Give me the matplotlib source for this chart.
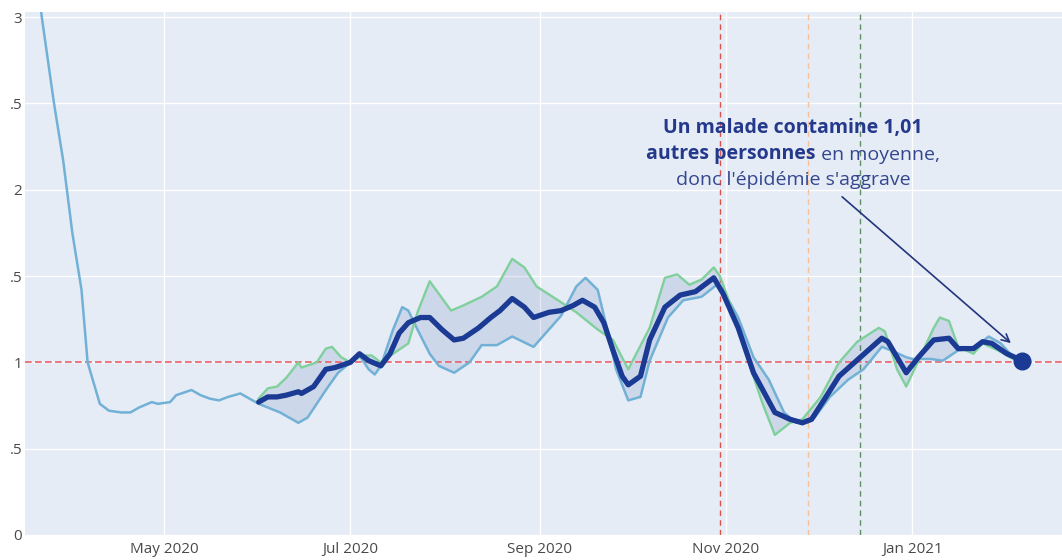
# -*- coding: utf-8 -*-
"""
Taux de reproduction R : deux estimations, leur moyenne, et l'annotation.
"""

import numpy as np
import pandas as pd
import matplotlib
matplotlib.use('Agg')
import matplotlib.pyplot as plt
import matplotlib.dates as mdates

plt.rcParams['font.family'] = ['Open Sans', 'DejaVu Sans']

## Data

# Light blue estimate (whole period)
hosp_dates = ['2020-03-20', '2020-03-22', '2020-03-26', '2020-03-29', '2020-04-01',
              '2020-04-04', '2020-04-06', '2020-04-09', '2020-04-10', '2020-04-13',
              '2020-04-17', '2020-04-20', '2020-04-23', '2020-04-27', '2020-04-29',
              '2020-05-03', '2020-05-05', '2020-05-10', '2020-05-13', '2020-05-16',
              '2020-05-19', '2020-05-22', '2020-05-26', '2020-05-28', '2020-06-01',
              '2020-06-08', '2020-06-14', '2020-06-17', '2020-06-23', '2020-06-27',
              '2020-07-01', '2020-07-04', '2020-07-07', '2020-07-09', '2020-07-11',
              '2020-07-15', '2020-07-18', '2020-07-20', '2020-07-23', '2020-07-27',
              '2020-07-30', '2020-08-04', '2020-08-09', '2020-08-13', '2020-08-18',
              '2020-08-23', '2020-08-30', '2020-09-04', '2020-09-08', '2020-09-13',
              '2020-09-16', '2020-09-20', '2020-09-23', '2020-09-26', '2020-09-30',
              '2020-10-04', '2020-10-07', '2020-10-13', '2020-10-18', '2020-10-24',
              '2020-10-29', '2020-10-31', '2020-11-05', '2020-11-10', '2020-11-15',
              '2020-11-20', '2020-11-24', '2020-11-30', '2020-12-05', '2020-12-11',
              '2020-12-16', '2020-12-22', '2020-12-25', '2020-12-30', '2021-01-01',
              '2021-01-07', '2021-01-11', '2021-01-16', '2021-01-21', '2021-01-26',
              '2021-01-30', '2021-02-03', '2021-02-06']
hosp_r = [3.3, 3.0, 2.5, 2.17, 1.75,
          1.42, 1.0, 0.82, 0.76, 0.72,
          0.71, 0.71, 0.74, 0.77, 0.76,
          0.77, 0.81, 0.84, 0.81, 0.79,
          0.78, 0.80, 0.82, 0.80, 0.76,
          0.71, 0.65, 0.68, 0.84, 0.94,
          1.0, 1.04, 0.96, 0.93, 0.98,
          1.19, 1.32, 1.30, 1.19, 1.05,
          0.98, 0.94, 1.0, 1.10, 1.10,
          1.15, 1.09, 1.19, 1.27, 1.44,
          1.49, 1.42, 1.20, 0.96, 0.78,
          0.80, 1.01, 1.26, 1.36, 1.38,
          1.45, 1.42, 1.26, 1.03, 0.90,
          0.71, 0.65, 0.68, 0.80, 0.90,
          0.96, 1.09, 1.07, 1.03, 1.02,
          1.02, 1.01, 1.07, 1.08, 1.15,
          1.11, 1.03, 1.01]

# Green estimate (from June)
cases_dates = ['2020-06-01', '2020-06-04', '2020-06-07', '2020-06-10', '2020-06-14',
               '2020-06-15', '2020-06-20', '2020-06-23', '2020-06-25', '2020-06-28',
               '2020-07-01', '2020-07-05', '2020-07-08', '2020-07-11', '2020-07-15',
               '2020-07-20', '2020-07-23', '2020-07-27', '2020-08-03', '2020-08-07',
               '2020-08-13', '2020-08-18', '2020-08-23', '2020-08-27', '2020-08-31',
               '2020-09-07', '2020-09-13', '2020-09-20', '2020-09-25', '2020-09-30',
               '2020-10-07', '2020-10-12', '2020-10-16', '2020-10-20', '2020-10-24',
               '2020-10-28', '2020-10-30', '2020-11-04', '2020-11-09', '2020-11-13',
               '2020-11-17', '2020-11-22', '2020-11-26', '2020-12-02', '2020-12-08',
               '2020-12-14', '2020-12-21', '2020-12-23', '2020-12-27', '2020-12-30',
               '2021-01-03', '2021-01-08', '2021-01-10', '2021-01-13', '2021-01-16',
               '2021-01-21', '2021-01-24', '2021-01-29', '2021-02-04', '2021-02-06']
cases_r = [0.79, 0.85, 0.86, 0.91, 1.0,
           0.97, 1.0, 1.08, 1.09, 1.03,
           1.0, 1.04, 1.04, 1.0, 1.05,
           1.11, 1.29, 1.47, 1.30, 1.33,
           1.38, 1.44, 1.60, 1.55, 1.44,
           1.36, 1.29, 1.19, 1.13, 0.96,
           1.20, 1.49, 1.51, 1.45, 1.48,
           1.55, 1.50, 1.26, 0.97, 0.76,
           0.58, 0.65, 0.67, 0.80, 1.0,
           1.12, 1.20, 1.18, 0.96, 0.86,
           1.01, 1.20, 1.26, 1.24, 1.09,
           1.05, 1.11, 1.07, 1.01, 1.0]

# Thick navy line: mean of the two estimates
mean_dates = ['2020-06-01', '2020-06-04', '2020-06-07', '2020-06-10', '2020-06-14',
              '2020-06-15', '2020-06-19', '2020-06-23', '2020-06-26', '2020-07-01',
              '2020-07-04', '2020-07-07', '2020-07-11', '2020-07-14', '2020-07-17',
              '2020-07-20', '2020-07-24', '2020-07-27', '2020-07-31', '2020-08-04',
              '2020-08-07', '2020-08-12', '2020-08-16', '2020-08-19', '2020-08-23',
              '2020-08-27', '2020-08-30', '2020-09-04', '2020-09-08', '2020-09-12',
              '2020-09-15', '2020-09-19', '2020-09-22', '2020-09-25', '2020-09-28',
              '2020-09-30', '2020-10-04', '2020-10-07', '2020-10-12', '2020-10-17',
              '2020-10-22', '2020-10-28', '2020-10-31', '2020-11-05', '2020-11-10',
              '2020-11-17', '2020-11-22', '2020-11-26', '2020-11-29', '2020-12-03',
              '2020-12-08', '2020-12-15', '2020-12-22', '2020-12-24', '2020-12-30',
              '2021-01-03', '2021-01-08', '2021-01-13', '2021-01-16', '2021-01-21',
              '2021-01-24', '2021-01-27', '2021-02-01', '2021-02-06']
mean_r = [0.77, 0.80, 0.80, 0.81, 0.83,
          0.82, 0.86, 0.96, 0.97, 1.0,
          1.05, 1.01, 0.98, 1.05, 1.17,
          1.23, 1.26, 1.26, 1.19, 1.13,
          1.14, 1.20, 1.26, 1.30, 1.37,
          1.32, 1.26, 1.29, 1.30, 1.33,
          1.36, 1.32, 1.23, 1.07, 0.92,
          0.87, 0.92, 1.13, 1.32, 1.39,
          1.41, 1.49, 1.40, 1.20, 0.94,
          0.71, 0.67, 0.65, 0.67, 0.78,
          0.92, 1.03, 1.14, 1.12, 0.94,
          1.03, 1.13, 1.14, 1.08, 1.08,
          1.12, 1.11, 1.05, 1.01]

# Dates of the vertical markers (confinement, easing, curfew)
event_dates = ['2020-10-30', '2020-11-28', '2020-12-15']
event_colors = ['#d9534f', '#f3c19b', '#5f8f62']

ytick_vals = [0, 0.5, 1, 1.5, 2, 2.5, 3]
ytick_labels = ['0', '.5', '1', '.5', '2', '.5', '3']

hosp_dates = pd.to_datetime(hosp_dates)
cases_dates = pd.to_datetime(cases_dates)
mean_dates = pd.to_datetime(mean_dates)
hosp_r = np.array(hosp_r)
cases_r = np.array(cases_r)

## Plot

fig = plt.figure(figsize=(10.62, 5.6), dpi=100)
ax = fig.add_axes([25/1062, 25/560, 1037/1062, 523/560])
ax.set_facecolor('#e5ecf6')
for s in ax.spines.values():
    s.set_visible(False)

# Band between the two estimates
band = hosp_dates >= cases_dates[0]
poly_x = np.concatenate([mdates.date2num(cases_dates),
                         mdates.date2num(hosp_dates[band])[::-1]])
poly_y = np.concatenate([cases_r, hosp_r[band][::-1]])
ax.fill(poly_x, poly_y, color='#23409a', alpha=0.12, lw=0, zorder=2)

ax.plot(hosp_dates, hosp_r, color='#72b1d6', lw=1.8, zorder=3)
ax.plot(cases_dates, cases_r, color='#80d09c', lw=1.7, zorder=3)
ax.plot(mean_dates, mean_r, color='#1b3a93', lw=3.8, zorder=4,
        solid_joinstyle='round', solid_capstyle='round')
ax.plot(mean_dates[-1:], mean_r[-1:], 'o', color='#1b3a93', ms=12, zorder=5)

# Reference lines
ax.axhline(1, color='#e8606a', lw=1.2, ls=(0, (4, 2)), zorder=2.5)
for d, c in zip(event_dates, event_colors):
    ax.axvline(pd.Timestamp(d), color=c, lw=1.0, ls=(0, (4, 3)), zorder=1.5)

# Axes
ax.set_xlim(pd.Timestamp('2020-03-16 12:00'), pd.Timestamp('2021-02-19'))
ax.set_ylim(0, 3.03)
ax.set_yticks(ytick_vals)
ax.set_yticklabels(ytick_labels)
ax.xaxis.set_major_locator(mdates.MonthLocator(bymonth=[1, 3, 5, 7, 9, 11]))
ax.xaxis.set_major_formatter(mdates.DateFormatter('%b %Y'))
ax.grid(True, color='white', lw=1.0, zorder=0)
ax.set_axisbelow(True)
ax.tick_params(length=0, labelsize=11, colors='#4a4a4a')
ax.tick_params(axis='y', pad=2)
ax.tick_params(axis='x', pad=5)

# Annotation
navy = '#25398c'
fs = 14
fig.text(793/1062, 432/560, 'Un malade contamine 1,01', ha='center', va='center',
         fontsize=fs, fontweight='bold', color=navy)
t_bold = fig.text(816/1062, 406/560, 'autres personnes', ha='right', va='center',
                  fontsize=fs, fontweight='bold', color=navy)
ax.annotate(' en moyenne,', xy=(1, 0), xycoords=t_bold, ha='left', va='bottom',
            fontsize=fs, color='#34468e')
fig.text(793/1062, 380/560, "donc l'épidémie s'aggrave", ha='center', va='center',
         fontsize=fs, color='#34468e')
ax.annotate('', xy=(1013, 215), xycoords='figure pixels',
            xytext=(840, 365), textcoords='figure pixels',
            arrowprops=dict(arrowstyle='->', color='#22357f', lw=1.2,
                            mutation_scale=14))

fig.savefig('out.png', dpi=100)
